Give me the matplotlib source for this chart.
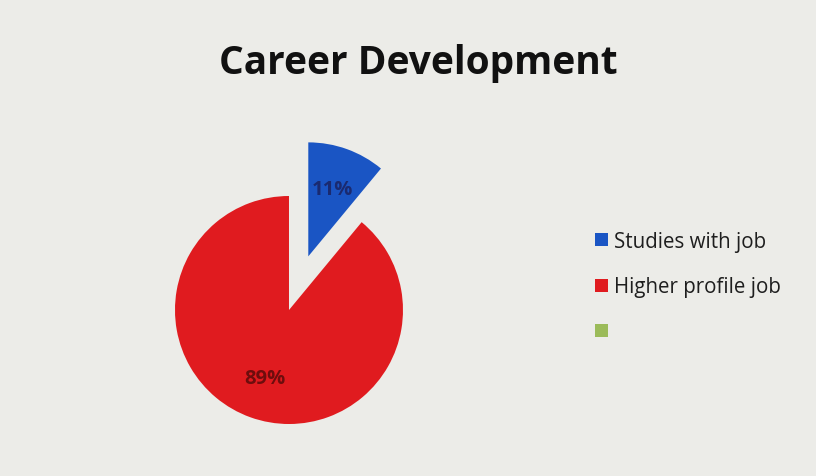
import matplotlib
matplotlib.use("Agg")
import matplotlib.pyplot as plt

# Dados do gráfico
categorias = ["Studies with job", "Higher profile job", ""]
valores = [11, 89, 0]
cores = ["#1a55c4", "#e01b1f", "#9bbb59"]
cores_rotulos = ["#1a2a70", "#6e0d0d", "#000000"]
titulo = "Career Development"

plt.rcParams['font.family'] = ['Open Sans', 'DejaVu Sans']

fig = plt.figure(figsize=(8.16, 4.77), dpi=100)
fig.patch.set_facecolor("#ecece8")

# eixo da pizza: 1 unidade = ~114 px
ax = fig.add_axes([0.1865, 0.0612, 0.3353, 0.6931])
ax.set_facecolor("none")


def rotulo(p):
    return f"{p:.0f}%" if p > 0 else ""


fatias, _, textos = ax.pie(valores, colors=cores, startangle=90, counterclock=False,
                           explode=[0.5, 0, 0], autopct=rotulo, pctdistance=0.63,
                           wedgeprops=dict(linewidth=0))
for t, c in zip(textos, cores_rotulos):
    t.set_color(c)
    t.set_fontsize(14.5)
    t.set_fontweight("bold")

ax.set_xlim(-1.2, 1.2)
ax.set_ylim(-1.2, 1.7)
ax.set_aspect("auto")
ax.axis("off")

fig.text(0.513, 0.866, titulo, ha="center", va="center", fontsize=28, fontweight="bold", color="#111111")

fig.legend(fatias, categorias, loc="upper left", bbox_to_anchor=(0.707, 0.553),
           frameon=False, fontsize=14.8, handlelength=0.6, handleheight=0.6,
           handletextpad=0.3, labelspacing=1.2, labelcolor="#1e1e1e")

plt.savefig("out.png", dpi=100, facecolor=fig.get_facecolor())
plt.close()
